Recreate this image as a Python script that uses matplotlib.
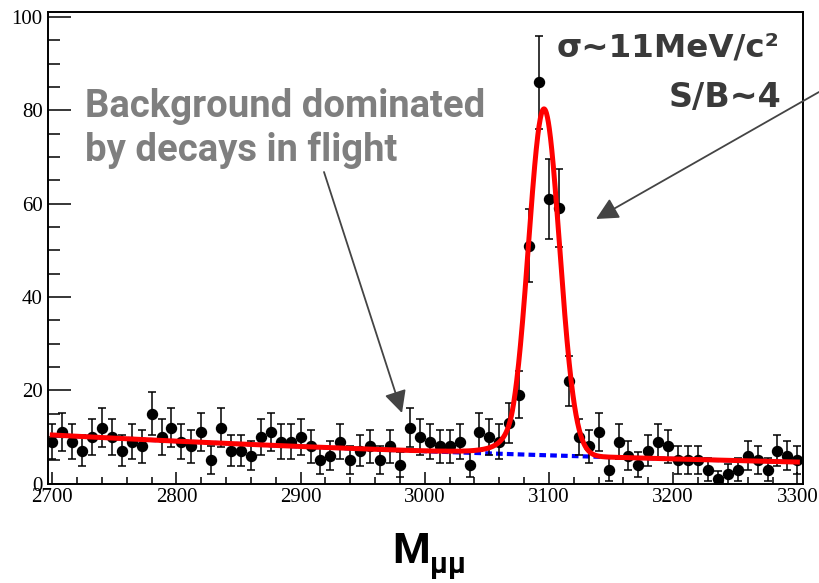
import numpy as np
import matplotlib
matplotlib.use("Agg")
import matplotlib.pyplot as plt
from matplotlib.ticker import MultipleLocator

# Dimuon invariant-mass histogram (8 MeV bins)
first_bin = 2700
bin_width = 8
counts = [9, 11, 9, 7, 10, 12, 10, 7, 9, 8,
          15, 10, 12, 9, 8, 11, 5, 12, 7, 7,
          6, 10, 11, 9, 9, 10, 8, 5, 6, 9,
          5, 7, 8, 5, 8, 4, 12, 10, 9, 8,
          8, 9, 4, 11, 10, 9, 13, 19, 51, 86,
          61, 59, 22, 10, 8, 11, 3, 9, 6, 4,
          7, 9, 8, 5, 5, 5, 3, 1, 2, 3,
          6, 5, 3, 7, 6, 5]

# Fit result: exponential background + Crystal Ball signal
bkg_norm = 10.4        # background level at 2700 MeV
bkg_slope = 0.001358   # 1/MeV
peak_mass = 3096.0
peak_sigma = 12.5
peak_height = 74.2
cb_alpha = 2.0
cb_n = 3.0

x_ticks = [2700, 2800, 2900, 3000, 3100, 3200, 3300]
y_ticks = [0, 20, 40, 60, 80, 100]

W, H = 819, 583


def background(m):
    return bkg_norm * np.exp(-bkg_slope * (m - first_bin))


def crystal_ball(m):
    t = (m - peak_mass) / peak_sigma
    a = abs(cb_alpha)
    core = np.exp(-0.5 * t ** 2)
    A = (cb_n / a) ** cb_n * np.exp(-0.5 * a ** 2)
    B = cb_n / a - a
    tail = A * np.power(np.clip(B - t, 1e-9, None), -cb_n)
    return peak_height * np.where(t > -a, core, tail)


counts = np.array(counts, dtype=float)
centers = first_bin + bin_width * np.arange(len(counts))
errors = np.sqrt(counts) + 0.7   # per-bin statistical uncertainty

fig = plt.figure(figsize=(W / 100, H / 100), dpi=100)
ax = fig.add_axes([48.3 / W, 1 - 484 / H, (803.3 - 48.3) / W, (484 - 11.7) / H])

mgrid = np.linspace(2700, 3300, 2401)
ax.plot(mgrid, background(mgrid), color="#0000ff", lw=3.0,
        linestyle=(0, (1.6, 1.0)), zorder=2)
ax.errorbar(centers, counts, yerr=errors, fmt="o", color="black",
            ms=7.2, elinewidth=1.1, capsize=3.2, capthick=1.1, zorder=3)
ax.plot(mgrid, background(mgrid) + crystal_ball(mgrid), color="#ff0000",
        lw=3.6, solid_joinstyle="round", zorder=4)

ax.set_xlim(2696.8, 3304.8)
ax.set_ylim(-0.1, 101.1)
ax.set_xticks(x_ticks)
ax.set_yticks(y_ticks)
ax.xaxis.set_minor_locator(MultipleLocator(20))
ax.yaxis.set_minor_locator(MultipleLocator(5))

for s in ax.spines.values():
    s.set_linewidth(1.4)
ax.tick_params(axis="x", which="major", direction="in", length=8.6, width=1.1, pad=3)
ax.tick_params(axis="x", which="minor", direction="in", length=5.0, width=1.1)
ax.tick_params(axis="y", which="major", direction="in", length=16.5, width=1.1, pad=4)
ax.tick_params(axis="y", which="minor", direction="in", length=8.6, width=1.1)
for lab in ax.get_xticklabels() + ax.get_yticklabels():
    lab.set_fontfamily("Liberation Serif")
    lab.set_fontsize(15)


def fx(px):
    return px / W


def fy(py):
    return 1 - py / H


sans = ["Roboto", "DejaVu Sans"]
wide = ["DejaVu Sans"]

fig.text(fx(85), fy(117), "Background dominated", family=sans, weight="bold",
         fontsize=27.5, color="#7f7f7f", va="baseline", ha="left")
fig.text(fx(85), fy(161), "by decays in flight", family=sans, weight="bold",
         fontsize=27.5, color="#7f7f7f", va="baseline", ha="left")

fig.text(fx(779), fy(56), "σ~11MeV/c²", family=wide, weight="bold",
         fontsize=23.4, color="#3a3a3a", va="baseline", ha="right")
fig.text(fx(781), fy(107), "S/B~4", family=wide, weight="bold",
         fontsize=24, color="#3a3a3a", va="baseline", ha="right")

arrow = dict(arrowstyle="-|>,head_length=0.9,head_width=0.45", color="#444444",
             lw=1.3, mutation_scale=15, shrinkA=0, shrinkB=0)
ax.annotate("", xy=(fx(402), fy(413)), xycoords="figure fraction",
            xytext=(fx(324), fy(172)), textcoords="figure fraction",
            arrowprops=arrow, annotation_clip=False)
ax.annotate("", xy=(fx(596), fy(219)), xycoords="figure fraction",
            xytext=(fx(819), fy(92)), textcoords="figure fraction",
            arrowprops=arrow, annotation_clip=False)

# axis title: M with subscript mu-mu
fig.text(fx(392), fy(563), "M", family=sans, weight="bold", fontsize=31,
         color="black", va="baseline", ha="left")
fig.text(fx(430), fy(573), "μμ", family=sans, weight="bold", fontsize=21,
         color="black", va="baseline", ha="left")

fig.savefig("out.png", dpi=100)
